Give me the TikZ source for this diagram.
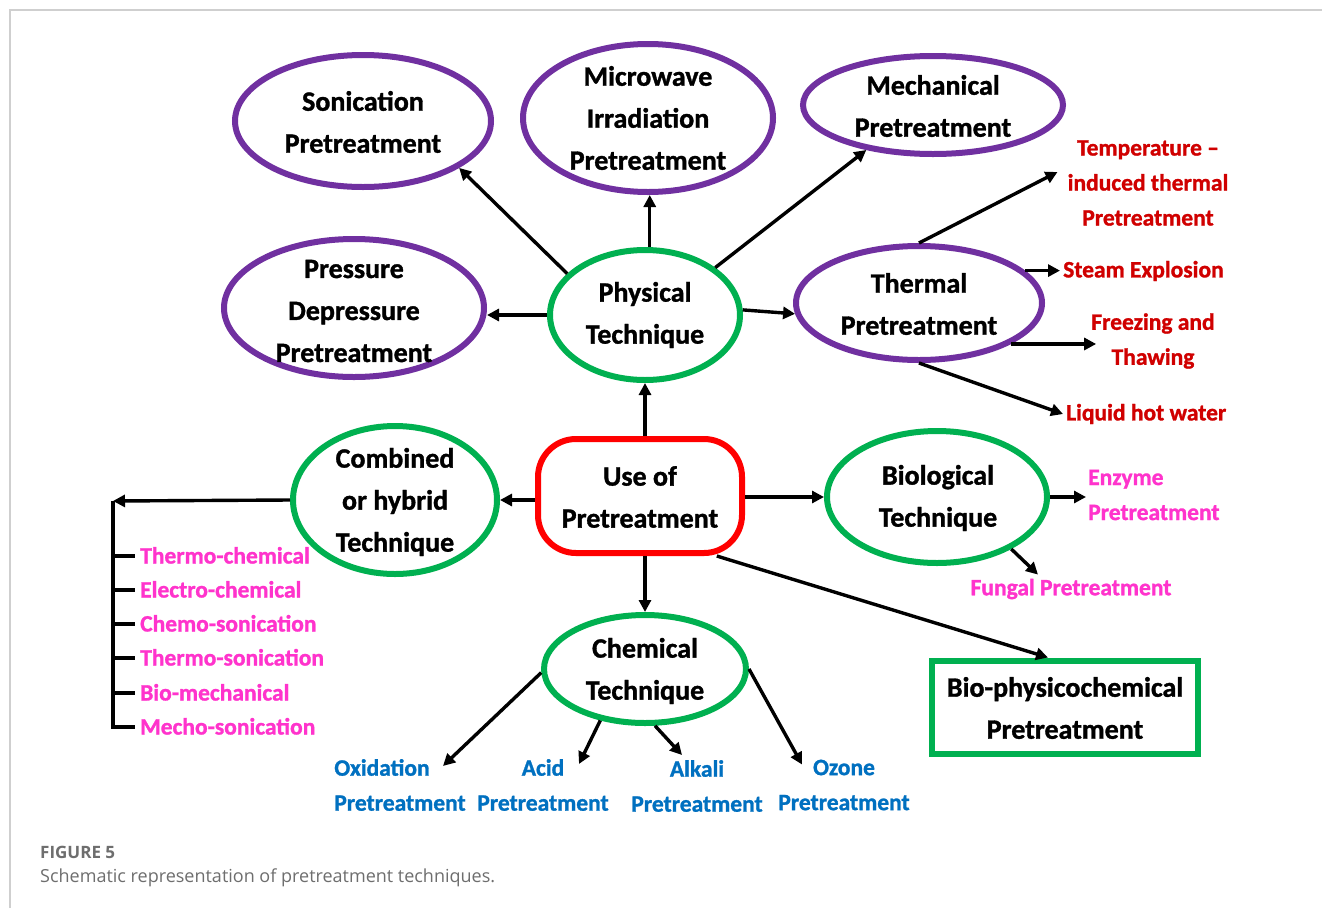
\documentclass[tikz,border=0pt]{standalone}
\usepackage{fontspec}
\newfontfamily\carl{Carlito}[UprightFont=* Bold,FakeBold=1.2]
\newfontfamily\capfont{Open Sans}
\usetikzlibrary{shapes.geometric,arrows.meta,calc}
\definecolor{purp}{HTML}{7030A0}
\definecolor{grn}{HTML}{00B050}
\definecolor{bxred}{HTML}{FF0000}
\definecolor{txred}{HTML}{D00000}
\definecolor{pnk}{HTML}{FF33CC}
\definecolor{blu}{HTML}{0070C0}
\definecolor{capgray}{HTML}{6E6E6E}
\definecolor{framegray}{HTML}{CFCFCF}
\newcommand\fbig{\carl\fontsize{28}{42}\selectfont}
\newcommand\fsml{\carl\fontsize{23.5}{35}\selectfont}
\begin{document}
\begin{tikzpicture}[x=1pt,y=-1pt,
  pell/.style={ellipse,draw=purp,line width=6pt,inner sep=0pt},
  gell/.style={ellipse,draw=grn,line width=6pt,inner sep=0pt},
  big/.style={font=\fbig,align=center,inner sep=0pt},
  rtxt/.style={font=\fsml,text=txred,align=center,inner sep=2pt},
  ptxt/.style={font=\fsml,text=pnk,align=center,inner sep=2pt},
  btxt/.style={font=\fsml,text=blu,align=center,inner sep=2pt},
  arr/.style={-{Triangle[length=12pt,width=12pt]},line width=3.4pt},
  ln/.style={line width=3.4pt},
  litem/.style={font=\fsml,text=pnk,anchor=west,inner xsep=5pt,inner ysep=0pt,text height=15pt,text depth=0pt}
]
\fill[white] (0,0) rectangle (1322,908);
\useasboundingbox (0,0) rectangle (1322,908);
\draw[framegray,line width=1.5pt] (10,908) -- (10,10) -- (1322,10);

% main shapes
\node[pell,minimum width=256pt,minimum height=132pt] (son) at (363,121) {};
\node[pell,minimum width=250pt,minimum height=148pt] (micro) at (648,118) {};
\node[pell,minimum width=260pt,minimum height=98pt] (mech) at (933,105) {};
\node[pell,minimum width=260pt,minimum height=138pt] (press) at (354,308) {};
\node[gell,minimum width=190pt,minimum height=130pt] (phys) at (645,315) {};
\node[pell,minimum width=246pt,minimum height=114pt] (therm) at (919,303) {};
\node[draw=bxred,line width=6pt,rounded corners=38pt,minimum width=204pt,minimum height=114pt,inner sep=0pt] (use) at (640,496) {};
\node[gell,minimum width=204pt,minimum height=148pt] (comb) at (395,500) {};
\node[gell,minimum width=220pt,minimum height=132pt] (bio) at (937,497) {};
\node[gell,minimum width=202pt,minimum height=108pt] (chem) at (645,669) {};
\node[draw=grn,line width=6pt,minimum width=266pt,minimum height=93pt,inner sep=0pt] (bp) at (1065,707) {};

% main texts
\node[big] at (363,122) {Sonication\\Pretreatment};
\node[big] at (648,118) {Microwave\\Irradiation\\Pretreatment};
\node[big] at (933,106) {Mechanical\\Pretreatment};
\node[big] at (354,311) {Pressure\\Depressure\\Pretreatment};
\node[big] at (645,315) {Physical\\Technique};
\node[big] at (919,304) {Thermal\\Pretreatment};
\node[big] at (640,497) {Use of\\Pretreatment};
\node[big] at (395,502) {Combined\\or hybrid\\Technique};
\node[big] at (938,498) {Biological\\Technique};
\node[big] at (645,671) {Chemical\\Technique};
\node[big] at (1065,708) {Bio-physicochemical\\Pretreatment};

% leaf labels
\node[rtxt] (temp) at (1148,183) {Temperature –\\induced thermal\\Pretreatment};
\node[rtxt,anchor=west,inner sep=3pt] (steam) at (1060,271) {Steam Explosion};
\node[rtxt] (freeze) at (1153,341) {Freezing and\\Thawing};
\node[rtxt,anchor=west,inner sep=3pt] (liquid) at (1063,414) {Liquid hot water};
\node[ptxt,align=left,anchor=west] (enz) at (1086,495) {Enzyme\\Pretreatment};
\node[ptxt] (fung) at (1071,589) {Fungal Pretreatment};
\node[btxt,align=left] (oxi) at (400,785) {Oxidation\\Pretreatment};
\node[btxt] (acid) at (543,785) {Acid\\Pretreatment};
\node[btxt] (alk) at (697,786) {Alkali\\Pretreatment};
\node[btxt] (ozo) at (844,785) {Ozone\\Pretreatment};

\node[litem] (p1) at (135,556) {Thermo-chemical};
\node[litem] (p2) at (135,590) {Electro-chemical};
\node[litem] (p3) at (135,624) {Chemo-sonication};
\node[litem] (p4) at (135,658) {Thermo-sonication};
\node[litem] (p5) at (135,693) {Bio-mechanical};
\node[litem] (p6) at (135,727) {Mecho-sonication};
\coordinate (brk) at (113,501);

% connectors from physical
\draw[arr] (phys.152) -- (son.334);
\draw[arr] (phys.86) -- (phys.86 |- micro.south);
\draw[arr] (phys.34) -- (mech.214);
\draw[arr] (phys.west) -- (phys.west -| press.east);
\draw[arr] (phys.3) -- (therm.185);
% connectors from use
\draw[arr] (phys.south |- use.north) -- (phys.south);
\draw[arr] (use.west |- comb.east) -- (comb.east);
\draw[arr] (use.east |- bio.west) -- (bio.west);
\draw[arr] (chem.north |- use.south) -- (chem.north);
\draw[arr] (use.-38) -- ($(bp.north)+(-17,0)$);
% thermal
\draw[arr] (therm.north) -- ($(temp.west)+(-8,-11)$);
\draw[arr] (therm.17) -- (therm.17 -| steam.west);
\draw[arr] (therm.-24) -- ($(therm.-24 -| freeze.west)+(7,0)$);
\draw[arr] (therm.south) -- (liquid.west);
% biological
\draw[arr] (bio.east) -- (bio.east -| enz.west);
\draw[arr] (bio.-35) -- ($(fung.north)+(-33,-2)$);
% chemical
\draw[arr] (chem.182) -- ($(oxi.north)+(43,9)$);
\draw[arr] (chem.229) -- ($(acid.north)+(36,7)$);
\draw[arr] (chem.280) -- ($(alk.north)+(-15,-3)$);
\draw[arr] (chem.east) -- ($(ozo.north)+(-42,7)$);
% combined bracket
\draw[arr] (comb.west) -- (brk);
\draw[ln] (brk) -- (brk |- p6.west) -- (p6.west);
\foreach \p in {p1,p2,p3,p4,p5}{\draw[ln] (brk |- \p.west) -- (\p.west);}

% caption
\node[font=\capfont\bfseries\fontsize{17}{22}\selectfont,text=capgray,anchor=base west,inner sep=0pt] (fig) at (40,858) {FIGURE 5};
\node[font=\capfont\fontsize{18}{22}\selectfont,text=capgray,anchor=base west,inner sep=0pt] (capt) at (40,882) {Schematic representation of pretreatment techniques.};
\end{tikzpicture}
\end{document}
